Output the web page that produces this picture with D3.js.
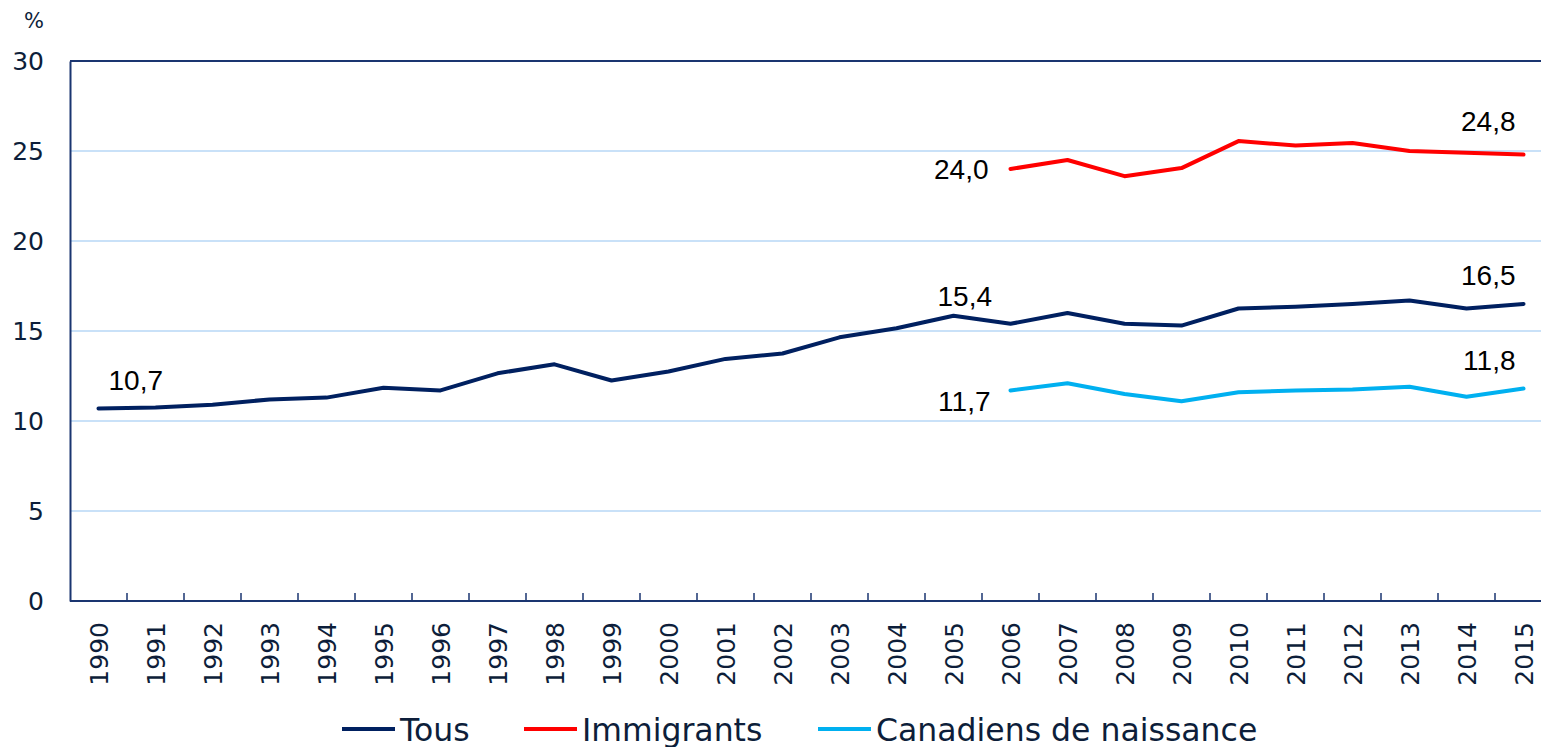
<!DOCTYPE html>
<html>
<head>
<meta charset="utf-8">
<script src="https://cdn.jsdelivr.net/npm/d3@7"></script>
<style>
  html, body { margin: 0; padding: 0; background: #fff; overflow: hidden; }
  svg { display: block; }
</style>
</head>
<body>
<svg id="vis" width="1541" height="747"></svg>
<script>
// data
var years = ["1990","1991","1992","1993","1994","1995","1996","1997","1998","1999","2000",
  "2001","2002","2003","2004","2005","2006","2007","2008","2009","2010","2011","2012","2013","2014","2015"];
var tous = [10.7, 10.75, 10.9, 11.2, 11.3, 11.85, 11.7, 12.65, 13.15, 12.25, 12.75,
  13.45, 13.75, 14.65, 15.15, 15.85, 15.4, 16.0, 15.4, 15.3, 16.25, 16.35, 16.5, 16.7, 16.25, 16.5];
var immYears = ["2006","2007","2008","2009","2010","2011","2012","2013","2014","2015"];
var immigrants = [24.0, 24.5, 23.6, 24.05, 25.55, 25.3, 25.45, 25.0, 24.9, 24.8];
var canadiens = [11.7, 12.1, 11.5, 11.1, 11.6, 11.7, 11.75, 11.9, 11.35, 11.8];
var yTicks = [0, 5, 10, 15, 20, 25, 30];
var seriesNames = ["Tous", "Immigrants", "Canadiens de naissance"];
var colors = ["#002060", "#ff0000", "#00b0f0"];

var MARGINS = {top: 61, left: 70, bottom: 146};
var width = 1541, height = 747;
var display = d3.select("#vis");

var x = d3.scaleBand()
    .domain(years)
    .range([MARGINS.left, MARGINS.left + 57 * years.length]);
var y = d3.scaleLinear()
    .domain([0, 30])
    .range([height - MARGINS.bottom, MARGINS.top]);

var axisColor = "#1a3570";
var textColor = "#0d1e3a";

// gridlines
display.append("g")
    .selectAll("line")
    .data(yTicks.filter(d => d > 0 && d < 30))
    .join("line")
    .attr("x1", x.range()[0]).attr("x2", x.range()[1])
    .attr("y1", d => y(d)).attr("y2", d => y(d))
    .attr("stroke", "#c9e1f8")
    .attr("stroke-width", 2);

// top frame
display.append("line")
    .attr("x1", x.range()[0]).attr("x2", x.range()[1])
    .attr("y1", y(30)).attr("y2", y(30))
    .attr("stroke", axisColor).attr("stroke-width", 2);

// y axis
var yAxis = d3.axisLeft(y).tickValues(yTicks).tickSize(0).tickPadding(26);
var gy = display.append("g")
    .attr("transform", `translate(${MARGINS.left},0)`)
    .call(yAxis);
gy.select(".domain").attr("stroke", axisColor).attr("stroke-width", 2);
gy.selectAll("text")
    .attr("fill", textColor)
    .style("font-family", "DejaVu Sans")
    .style("font-size", "25px");

// % label
display.append("text")
    .attr("x", 44).attr("y", 28)
    .attr("text-anchor", "end")
    .attr("fill", textColor)
    .style("font-family", "DejaVu Sans")
    .style("font-size", "21px")
    .text("%");

// x axis: ticks on the band boundaries, pointing up
var gx = display.append("g")
    .attr("transform", `translate(0,${y(0)})`);
gx.append("line")
    .attr("x1", x.range()[0]).attr("x2", x.range()[1])
    .attr("stroke", axisColor).attr("stroke-width", 2);
gx.selectAll(".tick")
    .data(years.slice(1))
    .join("line")
    .attr("class", "tick")
    .attr("x1", d => x(d)).attr("x2", d => x(d))
    .attr("y1", 0).attr("y2", -8)
    .attr("stroke", axisColor).attr("stroke-width", 1.5);
gx.selectAll(".lab")
    .data(years)
    .join("text")
    .attr("class", "lab")
    .attr("transform", d => `translate(${x(d) + x.bandwidth() / 2 + 9},21) rotate(-90)`)
    .attr("text-anchor", "end")
    .attr("fill", textColor)
    .style("font-family", "DejaVu Sans")
    .style("font-size", "25px")
    .text(d => d);

// lines
var cx = d => x(d) + x.bandwidth() / 2;
var line = d3.line().x(d => cx(d[0])).y(d => y(d[1]));
var data = [
    years.map((yr, i) => [yr, tous[i]]),
    immYears.map((yr, i) => [yr, immigrants[i]]),
    immYears.map((yr, i) => [yr, canadiens[i]])
];
display.append("g")
    .selectAll("path")
    .data(data)
    .join("path")
    .attr("d", line)
    .attr("fill", "none")
    .attr("stroke", (d, i) => colors[i])
    .attr("stroke-width", 4)
    .attr("stroke-linecap", "round")
    .attr("stroke-linejoin", "round");

// value labels
var fmt = v => v.toFixed(1).replace(".", ",");
var labels = [
    {yr: "1990", v: tous[0], dx: 10, dy: -18, anchor: "start"},
    {yr: "2006", v: tous[16], dx: -73, dy: -18, anchor: "start"},
    {yr: "2015", v: tous[25], dx: -8, dy: -19, anchor: "end"},
    {yr: "2006", v: immigrants[0], dx: -22, dy: 10, anchor: "end"},
    {yr: "2015", v: immigrants[9], dx: -8, dy: -24, anchor: "end"},
    {yr: "2006", v: canadiens[0], dx: -20, dy: 21, anchor: "end"},
    {yr: "2015", v: canadiens[9], dx: -8, dy: -19, anchor: "end"}
];
display.append("g")
    .selectAll("text")
    .data(labels)
    .join("text")
    .attr("x", d => cx(d.yr) + d.dx)
    .attr("y", d => y(d.v) + d.dy)
    .attr("text-anchor", d => d.anchor)
    .attr("fill", "#000")
    .style("font-family", "Liberation Sans, Arial, sans-serif")
    .style("font-size", "28px")
    .text(d => fmt(d.v));

// legend
var legendX = [342, 524, 818];
var legend = display.append("g")
    .selectAll("g")
    .data(seriesNames)
    .join("g")
    .attr("transform", (d, i) => `translate(${legendX[i]},729)`);
legend.append("line")
    .attr("x1", 0).attr("x2", 53)
    .attr("stroke", (d, i) => colors[i])
    .attr("stroke-width", 4);
legend.append("text")
    .attr("x", 58)
    .attr("y", 12)
    .attr("fill", textColor)
    .style("font-family", "DejaVu Sans")
    .style("font-size", "31.5px")
    .text(d => d);
</script>
</body>
</html>
